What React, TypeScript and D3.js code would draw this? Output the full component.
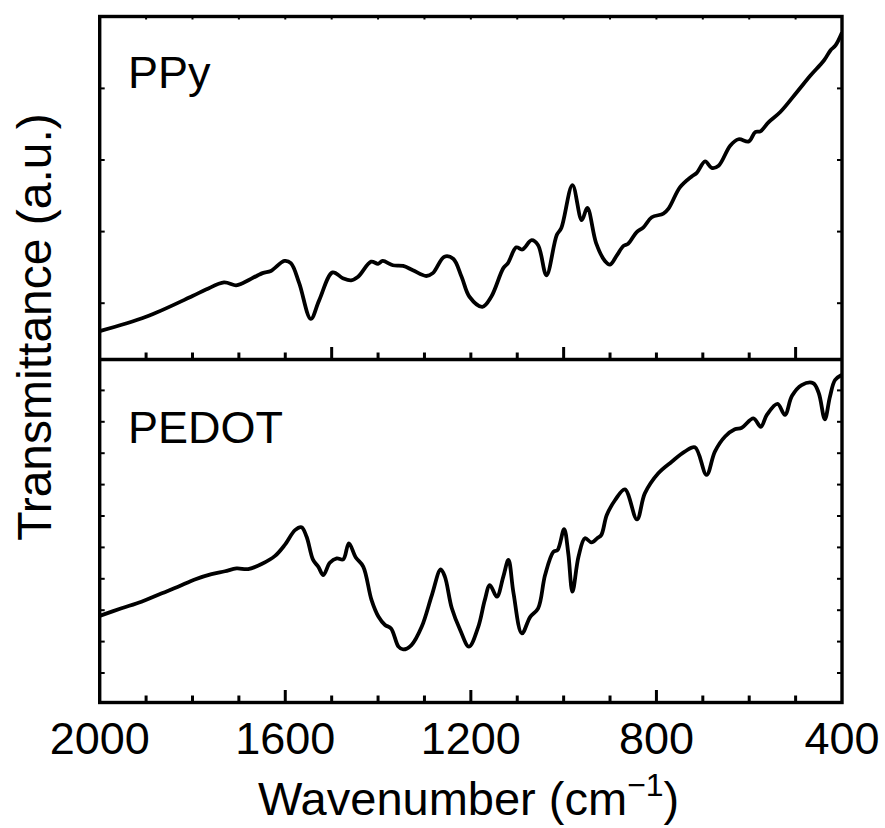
import React from "react";
import * as d3 from "d3";

// Wavenumber (cm^-1) / transmittance (a.u.)
const ppyWavenumber = [2000, 1900, 1800, 1771, 1732, 1706, 1692, 1649, 1631, 1602, 1588, 1570, 1545, 1527, 1498, 1476, 1458, 1443, 1415, 1400, 1390, 1368, 1346, 1325, 1296, 1282, 1257, 1238, 1220, 1203, 1175, 1156, 1130, 1120, 1102, 1089, 1069, 1055, 1037, 1015, 1005, 981, 961, 949, 930, 911, 900, 886, 871, 861, 843, 828, 810, 785, 774, 749, 724, 713, 695, 681, 666, 641, 623, 601, 587, 576, 558, 533, 497, 468, 439, 425, 414, 400];
const ppyTransmittance = [0.61, 0.81, 1.10, 1.19, 1.29, 1.25, 1.28, 1.42, 1.45, 1.59, 1.56, 1.28, 0.78, 1.04, 1.43, 1.35, 1.32, 1.37, 1.58, 1.55, 1.59, 1.53, 1.52, 1.46, 1.38, 1.42, 1.65, 1.62, 1.37, 1.09, 0.95, 1.09, 1.49, 1.56, 1.78, 1.75, 1.88, 1.81, 1.39, 1.95, 2.05, 2.65, 2.16, 2.33, 1.84, 1.59, 1.54, 1.66, 1.80, 1.83, 1.99, 2.06, 2.20, 2.25, 2.32, 2.62, 2.77, 2.82, 2.98, 2.89, 2.92, 3.20, 3.29, 3.26, 3.39, 3.40, 3.53, 3.67, 3.95, 4.18, 4.39, 4.53, 4.60, 4.78];

const pedotWavenumber = [2000, 1953, 1910, 1866, 1831, 1795, 1759, 1730, 1705, 1680, 1651, 1622, 1601, 1579, 1565, 1554, 1540, 1529, 1518, 1504, 1489, 1475, 1463, 1448, 1432, 1414, 1399, 1385, 1372, 1356, 1346, 1328, 1306, 1284, 1265, 1256, 1241, 1223, 1204, 1184, 1170, 1159, 1144, 1130, 1119, 1108, 1090, 1072, 1055, 1040, 1022, 1013, 999, 990, 981, 968, 954, 940, 927, 919, 907, 889, 868, 842, 825, 796, 767, 739, 717, 692, 674, 652, 631, 616, 591, 575, 562, 539, 523, 508, 487, 462, 450, 437, 426, 415, 401];
const pedotTransmittance = [2.82, 3.06, 3.27, 3.54, 3.75, 3.98, 4.15, 4.24, 4.33, 4.31, 4.47, 4.73, 5.08, 5.55, 5.64, 5.34, 4.60, 4.39, 4.12, 4.51, 4.65, 4.62, 5.13, 4.68, 4.39, 3.32, 2.79, 2.53, 2.42, 1.84, 1.75, 1.89, 2.47, 3.48, 4.30, 4.07, 3.06, 2.37, 1.84, 2.47, 3.32, 3.80, 3.43, 4.07, 4.60, 3.54, 2.26, 2.79, 3.06, 4.12, 4.86, 4.92, 5.58, 4.81, 3.59, 4.70, 5.29, 5.16, 5.30, 5.39, 6.03, 6.51, 6.85, 5.89, 6.72, 7.36, 7.73, 8.05, 8.19, 7.31, 8.05, 8.53, 8.76, 8.81, 9.11, 8.84, 9.22, 9.57, 9.22, 9.82, 10.17, 10.23, 9.91, 9.08, 9.80, 10.33, 10.49];

const xTickLabels = [2000, 1600, 1200, 800, 400];
const xMinorTicks = d3.range(2000, 399, -100);
const topPanelMajorTicks = [1500, 1000, 500];
const topPanelYTicks = [1, 2, 3, 4];
const bottomPanelYTicks = [1, 2, 3, 4, 5, 6, 7, 8, 9, 10];
const panelLabels = ["PPy", "PEDOT"];

const W = 885;
const H = 828;
const left = 99.7;
const right = 842;
const top = 16.5;
const mid = 359.5;
const bottom = 702.5;
const FONT = "'Liberation Sans', Arial, Helvetica, sans-serif";

export default function App() {
  const x = d3.scaleLinear().domain([2000, 400]).range([left, right]);
  const yTop = d3.scaleLinear().domain([0, 5]).range([374.8, 16.8]);
  const yBot = d3.scaleLinear().domain([0, 11]).range([704.4, 359]);

  const lineTop = d3
    .line<number>()
    .x((_, i) => x(ppyWavenumber[i]))
    .y((d) => yTop(d))
    .curve(d3.curveCatmullRom.alpha(0.5));
  const lineBot = d3
    .line<number>()
    .x((_, i) => x(pedotWavenumber[i]))
    .y((d) => yBot(d))
    .curve(d3.curveCatmullRom.alpha(0.5));

  const tickStroke = 3;
  const minorLen = 7;
  const majorLen = 12.5;
  const yTickLen = 5;

  return (
    <svg width={W} height={H} style={{ position: "absolute", left: 0, top: 0, background: "#fff" }}>
      <rect x={0} y={0} width={W} height={H} fill="#fff" />
      <defs>
        <clipPath id="clipTop">
          <rect x={left} y={top} width={right - left} height={mid - top} />
        </clipPath>
        <clipPath id="clipBot">
          <rect x={left} y={mid} width={right - left} height={bottom - mid} />
        </clipPath>
      </defs>

      {/* curves */}
      <path d={lineTop(ppyTransmittance) || ""} fill="none" stroke="#000" strokeWidth={3.8} strokeLinejoin="round" clipPath="url(#clipTop)" />
      <path d={lineBot(pedotTransmittance) || ""} fill="none" stroke="#000" strokeWidth={3.8} strokeLinejoin="round" clipPath="url(#clipBot)" />

      {/* top panel bottom-axis ticks (pointing up) */}
      {xMinorTicks.slice(1, -1).map((w) => (
        <line key={"tb" + w} x1={x(w)} x2={x(w)} y1={mid} y2={mid - (topPanelMajorTicks.includes(w) ? majorLen : minorLen)} stroke="#000" strokeWidth={tickStroke} />
      ))}
      {/* top panel top-axis small ticks */}
      {xMinorTicks.slice(1, -1).map((w) => (
        <line key={"tt" + w} x1={x(w)} x2={x(w)} y1={top} y2={top + 3} stroke="#000" strokeWidth={2} />
      ))}
      {/* bottom panel bottom-axis ticks */}
      {xMinorTicks.slice(1, -1).map((w) => (
        <line key={"bb" + w} x1={x(w)} x2={x(w)} y1={bottom} y2={bottom - (xTickLabels.includes(w) ? majorLen : minorLen)} stroke="#000" strokeWidth={tickStroke} />
      ))}

      {/* y ticks */}
      {topPanelYTicks.map((v) => (
        <g key={"yt" + v}>
          <line x1={left} x2={left + yTickLen} y1={yTop(v)} y2={yTop(v)} stroke="#000" strokeWidth={2} />
          <line x1={right} x2={right - yTickLen} y1={yTop(v)} y2={yTop(v)} stroke="#000" strokeWidth={2} />
        </g>
      ))}
      {bottomPanelYTicks.map((v) => (
        <g key={"yb" + v}>
          <line x1={left} x2={left + yTickLen} y1={yBot(v)} y2={yBot(v)} stroke="#000" strokeWidth={2} />
          <line x1={right} x2={right - yTickLen} y1={yBot(v)} y2={yBot(v)} stroke="#000" strokeWidth={2} />
        </g>
      ))}

      {/* frame */}
      <rect x={left} y={top} width={right - left} height={bottom - top} fill="none" stroke="#000" strokeWidth={3.4} />
      <line x1={left} x2={right} y1={mid} y2={mid} stroke="#000" strokeWidth={3.4} />

      {/* panel labels */}
      <text x={128} y={88} fontFamily={FONT} fontSize={45} fill="#000">{panelLabels[0]}</text>
      <text x={128} y={443} fontFamily={FONT} fontSize={45} fill="#000">{panelLabels[1]}</text>

      {/* x tick labels */}
      {xTickLabels.map((w) => (
        <text key={"xl" + w} x={x(w)} y={754} textAnchor="middle" fontFamily={FONT} fontSize={45} fill="#000">
          {w}
        </text>
      ))}

      {/* x axis title */}
      <text x={258} y={815} fontFamily={FONT} fontSize={47} fill="#000">
        Wavenumber (cm
        <tspan dy={-19} fontSize={32}>−1</tspan>
        <tspan dy={19}>)</tspan>
      </text>

      {/* y axis title */}
      <text transform="translate(51,327) rotate(-90)" textAnchor="middle" fontFamily={FONT} fontSize={48} fill="#000">
        Transmittance (a.u.)
      </text>
    </svg>
  );
}
